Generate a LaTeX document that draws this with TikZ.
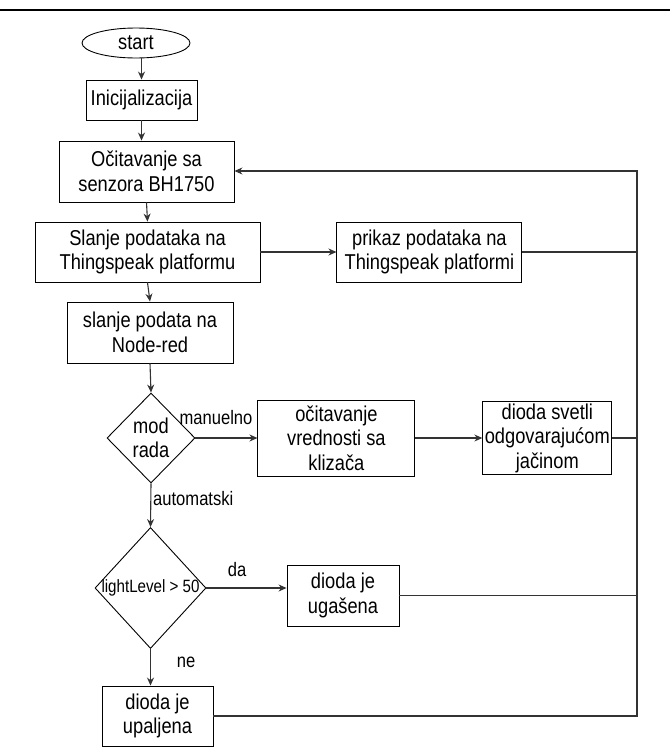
\documentclass[tikz,border=0pt]{standalone}
\usepackage{fontspec}
\setmainfont[FakeStretch=0.85]{Liberation Sans}
\usepackage{tikz}
\usetikzlibrary{positioning, shapes.geometric, arrows.meta}
\tikzset{
  box/.style={draw, line width=0.9pt, inner sep=0pt, align=center,
    font=\fontsize{21.5}{24.5}\selectfont},
  startstop/.style={draw, ellipse, line width=0.9pt, inner sep=0pt,
    minimum width=108, minimum height=30, font=\fontsize{21.5}{24.5}\selectfont},
  decision/.style={draw, diamond, line width=0.9pt, inner sep=0pt, align=center,
    font=\fontsize{21.5}{24.5}\selectfont},
  branch/.style={inner sep=0pt, font=\fontsize{19.5}{22}\selectfont},
  conn/.style={draw=black!80, line width=1.1pt},
  flow/.style={conn, -{Stealth[length=8pt, width=7pt]}}
}
\begin{document}
\begin{tikzpicture}[x=1pt, y=-1pt]
  \useasboundingbox (0,0) rectangle (670,747);
  \draw[line width=1.3pt] (0,10) -- (670,10);

  % main column
  \node (start) [startstop] at (136,43) {start};
  \node (init) [box, minimum width=111, minimum height=40] at (141.5,100) {Inicijalizacija};
  \node (ocit) [box, minimum width=175, minimum height=61] at (146.5,171.5) {Očitavanje sa\\senzora BH1750};
  \node (slanje) [box, minimum width=225, minimum height=60] at (147.5,252) {Slanje podataka na\\Thingspeak platformu};
  \node (prikaz) [box, minimum width=185, minimum height=60, right = 76pt of slanje] {prikaz podataka na\\Thingspeak platformi};
  \node (nodered) [box, minimum width=166, minimum height=61] at (150,332.5) {slanje podata na\\Node-red};

  % mod rada
  \node (mod) [decision, minimum width=88, minimum height=90] at (151,438) {mod\\rada};
  \node (klizac) [box, minimum width=157, minimum height=76, right = 62pt of mod] {očitavanje\\vrednosti sa\\klizača};
  \node (svetli) [box, minimum width=129, minimum height=73, right = 67pt of klizac] {dioda svetli\\odgovarajućom\\jačinom};

  % automatski
  \node (light) [decision, minimum width=111, minimum height=121] at (150.5,588)
    {\makebox[0pt]{\fontsize{17.8}{20}\selectfont lightLevel > 50}};
  \node (ugasena) [box, minimum width=112, minimum height=61] at (343,595.5) {dioda je\\ugašena};
  \node (upaljena) [box, minimum width=111, minimum height=60] at (157.5,716) {dioda je\\upaljena};

  \node (lmanuelno) [branch] at (216,418) {manuelno};
  \node (lauto) [branch, anchor=west] at (153,499) {automatski};
  \node (lda) [branch] at (237,570) {da};
  \node (lne) [branch] at (186,662) {ne};

  \coordinate (loop) at (637,171);

  \draw[flow] (start.south -| init.north) -- (init.north);
  \draw[flow] (init.south) -- (init.south |- ocit.north);
  \draw[flow] (ocit.south) -- (slanje.north);
  \draw[flow] (slanje.east) -- (prikaz.west);
  \draw[flow] (slanje.south) -- (nodered.north);
  \draw[flow] (nodered.south) -- (mod.north);
  \draw[flow] (mod.east) -- (klizac.west);
  \draw[flow] (klizac.east) -- (svetli.west);
  \draw[flow] (mod.south) -- (light.north);
  \draw[flow] (light.east) -- (light.east -| ugasena.west);
  \draw[flow] (light.south) -- (light.south |- upaljena.north);

  % back to the sensor
  \draw[conn] (prikaz.east) -- (prikaz.east -| loop);
  \draw[conn] (svetli.east) -- (svetli.east -| loop);
  \draw[conn] (ugasena.east) -- (ugasena.east -| loop);
  \draw[flow] (upaljena.east) -- (upaljena.east -| loop) -- (loop) -- (loop -| ocit.east);
\end{tikzpicture}
\end{document}
